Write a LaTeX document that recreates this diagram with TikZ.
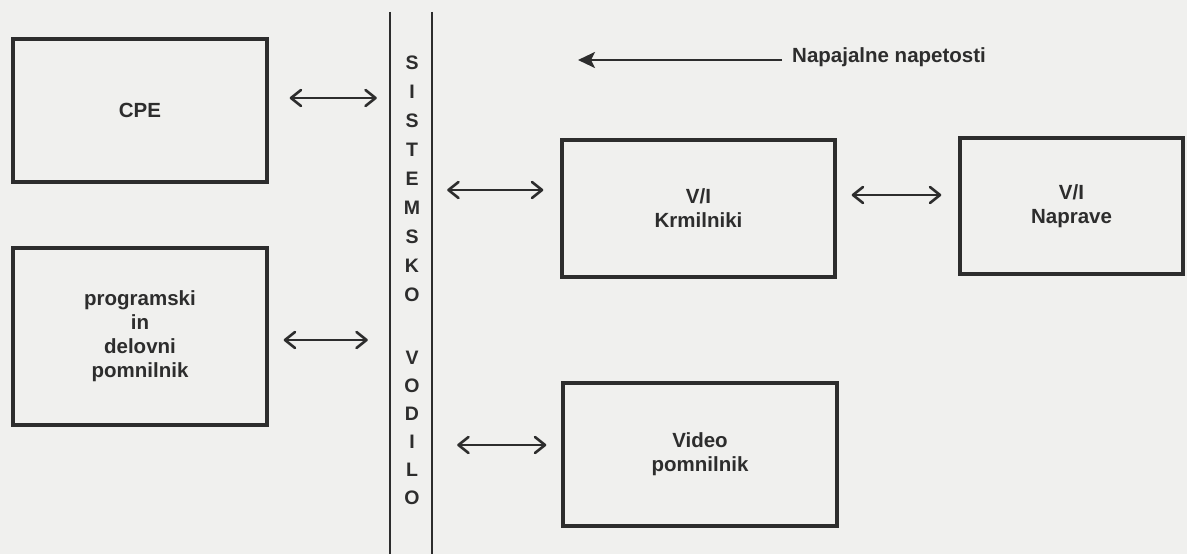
\documentclass[tikz,border=0pt]{standalone}
\usepackage{fontspec}
\setmainfont{Liberation Sans}
\usetikzlibrary{arrows.meta}
\definecolor{ink}{RGB}{45,45,45}
\definecolor{paper}{RGB}{240,240,238}
\tikzset{
  blok/.style={draw=ink, line width=3.4pt, inner sep=0pt, text=ink,
    align=center, font=\bfseries\fontsize{20.5}{24}\selectfont},
  crka/.style={text=ink, inner sep=0pt, font=\bfseries\fontsize{19.5}{22}\selectfont},
  vodilo/.style={draw=ink, line width=2.2pt},
  dvosmer/.style={draw=ink, line width=2.6pt,
    {Straight Barb[length=10pt,width=16pt,round]}-{Straight Barb[length=10pt,width=16pt,round]}},
  enosmer/.style={draw=ink, line width=2.6pt, -{Stealth[length=17pt,width=16pt,inset=4pt]}},
  napis/.style={text=ink, inner sep=0pt, font=\bfseries\fontsize{20.5}{24}\selectfont}
}
\begin{document}
\begin{tikzpicture}[x=1pt,y=-1pt]
\fill[paper] (0,0) rectangle (1187,554);
\useasboundingbox (0,0) rectangle (1187,554);

% boxes
\node[blok, minimum width=254pt, minimum height=143pt] (cpe) at (140,110.5) {CPE};
\node[blok, minimum width=254pt, minimum height=177pt] (prog) at (140,336.5)
  {programski\\in\\delovni\\pomnilnik};
\node[blok, minimum width=273pt, minimum height=137pt] (krm) at (698.5,208.5)
  {V/I\\Krmilniki};
\node[blok, minimum width=223pt, minimum height=136pt] (nap) at (1071.5,206)
  {V/I\\Naprave};
\node[blok, minimum width=274pt, minimum height=143pt] (vid) at (700,454.5)
  {Video\\pomnilnik};

% system bus
\node[minimum width=42pt, minimum height=560pt, inner sep=0pt] (bus) at (411,292) {};
\draw[vodilo] (bus.north west) -- (bus.south west);
\draw[vodilo] (bus.north east) -- (bus.south east);
\foreach \l [count=\i from 0] in {S,I,S,T,E,M,S,K,O}
  \node[crka] (b\i) at (412,63+29*\i) {\l};
\foreach \l [count=\i from 0] in {V,O,D,I,L,O}
  \node[crka] (c\i) at (412,358+28*\i) {\l};

% power supply
\node[napis, anchor=west] (napt) at (792,57) {Napajalne napetosti};
\coordinate (napend) at (578,60);
\draw[enosmer, shorten <=10pt] (napt.west |- napend) -- (napend);

% connectors
\draw[dvosmer, shorten <=21pt, shorten >=13pt] (cpe.east |- 0,98) -- (bus.west |- 0,98);
\draw[dvosmer, shorten <=15pt, shorten >=17pt] (bus.east |- 0,190) -- (krm.west |- 0,190);
\draw[dvosmer, shorten <=15pt, shorten >=17pt] (krm.east |- 0,195) -- (nap.west |- 0,195);
\draw[dvosmer, shorten <=15pt, shorten >=22pt] (prog.east |- 0,340) -- (bus.west |- 0,340);
\draw[dvosmer, shorten <=25pt, shorten >=15pt] (bus.east |- 0,445) -- (vid.west |- 0,445);
\end{tikzpicture}
\end{document}
